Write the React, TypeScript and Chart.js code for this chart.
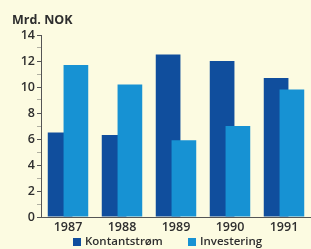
import React, { useEffect, useRef } from "react";
import { Chart, registerables } from "chart.js";

Chart.register(...registerables);

const categories = ["1987", "1988", "1989", "1990", "1991"];
const kontantstrom = [6.5, 6.3, 12.5, 12.0, 10.7];
const investering = [11.7, 10.2, 5.9, 7.0, 9.8];
const seriesLabels = ["Kontantstrøm", "Investering"];
const yTitle = "Mrd. NOK";

const DARK = "#104e9d";
const LIGHT = "#1792d3";
const BG = "#fcfbe1";
const INK = "#2e2e2e";
const FONT = "'Open Sans', 'DejaVu Sans', sans-serif";

const drawOrderPlugin = {
  id: "drawOrder",
  beforeDatasetsDraw(chart: any) {
    const n = chart.data.datasets.length;
    for (let i = 0; i < n; i++) {
      const meta = chart.getDatasetMeta(i);
      if (meta && meta.visible !== false) meta.controller.draw();
    }
    return false;
  },
};

const decorPlugin = {
  id: "decor",
  afterDraw(chart: any) {
    const ctx = chart.ctx;
    ctx.save();
    ctx.fillStyle = INK;
    ctx.textBaseline = "middle";
    ctx.textAlign = "left";
    ctx.font = `bold 12.5px ${FONT}`;
    ctx.fillText(yTitle, 12, 20);

    ctx.font = `600 11.5px ${FONT}`;
    const starts = [73, 188];
    chart.data.datasets.forEach((ds: any, i: number) => {
      const x = starts[i];
      const y = 242;
      ctx.fillStyle = ds.backgroundColor;
      ctx.fillRect(x, y - 4, 8, 8);
      ctx.fillStyle = INK;
      ctx.fillText(ds.label, x + 12, y);
    });
    ctx.restore();
  },
};

export default function App() {
  const ref = useRef<HTMLCanvasElement>(null);
  useEffect(() => {
    if (!ref.current) return;
    const chart = new Chart(ref.current, {
      type: "bar",
      data: {
        labels: categories,
        datasets: [
          { label: seriesLabels[0], data: kontantstrom, backgroundColor: DARK, borderWidth: 0 },
          { label: seriesLabels[1], data: investering, backgroundColor: LIGHT, borderWidth: 0 },
        ],
      },
      options: {
        responsive: false,
        animation: false,
        layout: { padding: { top: 35, right: -4, bottom: 11, left: 0 } },
        datasets: {
          bar: { categoryPercentage: 0.585, barPercentage: 1.5625 },
        },
        plugins: {
          legend: { display: false },
          title: { display: false },
          tooltip: { enabled: false },
        },
        scales: {
          x: {
            grid: { display: false, drawTicks: false },
            border: { display: true, color: "#555", width: 1 },
            ticks: {
              color: INK,
              padding: 3,
              font: { family: FONT, size: 12.5, weight: "600" },
            },
          },
          y: {
            min: 0,
            max: 14,
            afterFit(scale: any) {
              scale.width = 41;
            },
            grid: {
              drawOnChartArea: false,
              drawTicks: true,
              tickLength: 4,
              tickColor: (c: any) => (c.tick && c.tick.value % 2 === 0 ? "#555" : "rgba(85,85,85,0.45)"),
            },
            border: { display: true, color: "#555", width: 1 },
            ticks: {
              stepSize: 1,
              autoSkip: false,
              padding: 2,
              color: INK,
              font: { family: FONT, size: 12.5, weight: "600" },
              callback: (v: any) => (Number(v) % 2 === 0 ? String(v) : ""),
            },
          },
        },
      },
      plugins: [drawOrderPlugin, decorPlugin],
    });
    return () => chart.destroy();
  }, []);

  return (
    <div style={{ position: "absolute", left: 0, top: 0, width: 311, height: 249, background: BG, overflow: "hidden" }}>
      <canvas ref={ref} width={311} height={249} style={{ display: "block", width: 311, height: 249 }} />
    </div>
  );
}
